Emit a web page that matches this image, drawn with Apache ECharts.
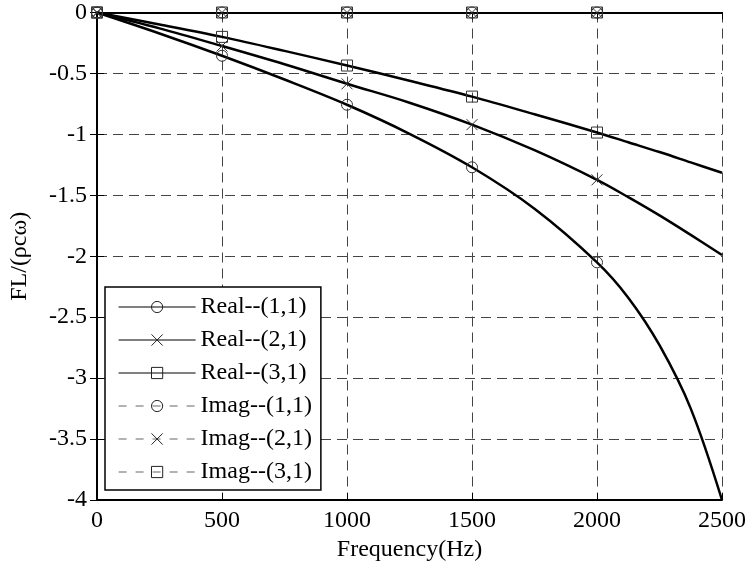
<!DOCTYPE html>
<html>
<head>
<meta charset="utf-8">
<script src="https://cdn.jsdelivr.net/npm/echarts@6/dist/echarts.min.js"></script>
<style>html,body{margin:0;padding:0;background:#fff}#c{width:749px;height:570px}</style>
</head>
<body>
<div id="c"></div>
<script>
const freq = [0, 250, 500, 750, 1000, 1250, 1500, 1750, 2000, 2125, 2250, 2375, 2500];
const markerFreqs = [0, 500, 1000, 1500, 2000];
const real11 = [0, -0.172, -0.355, -0.55, -0.757, -0.995, -1.27, -1.61, -2.05, -2.34, -2.73, -3.25, -4.0];
const real21 = [0, -0.13, -0.275, -0.425, -0.585, -0.74, -0.92, -1.13, -1.373, -1.515, -1.665, -1.825, -1.99];
const real31 = [0, -0.098, -0.2, -0.315, -0.435, -0.56, -0.69, -0.835, -0.985, -1.065, -1.145, -1.23, -1.315];
const imag11 = [0, 0, 0, 0, 0, 0, 0, 0, 0, 0, 0, 0, 0];
const imag21 = [0, 0, 0, 0, 0, 0, 0, 0, 0, 0, 0, 0, 0];
const imag31 = [0, 0, 0, 0, 0, 0, 0, 0, 0, 0, 0, 0, 0];
const xTicks = [0, 500, 1000, 1500, 2000, 2500];
const names = ['Real--(1,1)', 'Real--(2,1)', 'Real--(3,1)', 'Imag--(1,1)', 'Imag--(2,1)', 'Imag--(3,1)'];

const FONT = "'Liberation Serif','Times New Roman',serif";
const crossPath = 'path://M0,0L10,10M10,0L0,10';
const symbols = ['circle', crossPath, 'rect', 'circle', crossPath, 'rect'];
const values = [real11, real21, real31, imag11, imag21, imag31];

function mkData(vals, sym) {
  return freq.map((f, i) => ({
    value: [f, vals[i]],
    symbol: markerFreqs.includes(f) ? sym : 'none'
  }));
}

const series = names.map((n, k) => {
  const isReal = k < 3;
  return {
    name: n,
    type: 'line',
    smooth: 0.35,
    clip: false,
    symbol: symbols[k],
    symbolSize: 11,
    showAllSymbol: true,
    data: mkData(values[k], symbols[k]),
    lineStyle: isReal ? {color: '#000', width: 2.5, type: 'solid'} : {color: '#000', width: 1.2, type: [5, 4]},
    itemStyle: {color: 'none', borderColor: '#333', borderWidth: 1},
    z: isReal ? 3 : 4,
    emphasis: {disabled: true},
    animation: false
  };
});

const legendData = names.map((n, k) => ({
  name: n,
  lineStyle: k < 3 ? {color: '#000', width: 1, type: 'solid'} : {color: '#666', width: 1.2, type: [8, 9]},
  itemStyle: {color: 'none', borderColor: '#222', borderWidth: 1}
}));

const chart = echarts.init(document.getElementById('c'), null, {renderer: 'canvas'});
chart.setOption({
  animation: false,
  backgroundColor: '#fff',
  grid: {left: 93, right: 27, top: 12.5, bottom: 70, show: false},
  legend: {
    orient: 'vertical',
    left: 105, top: 287,
    data: legendData,
    itemWidth: 77, itemHeight: 14,
    itemGap: 9,
    padding: [8, 9, 6, 13],
    borderColor: '#000', borderWidth: 1.5,
    backgroundColor: '#fff',
    textStyle: {fontFamily: FONT, fontSize: 24, color: '#000'},
    selectedMode: false
  },
  xAxis: [{
    type: 'value', min: 0, max: 2500, interval: 500,
    name: 'Frequency(Hz)', nameLocation: 'middle', nameGap: 37,
    nameTextStyle: {fontFamily: FONT, fontSize: 24, color: '#000'},
    axisLine: {show: true, onZero: false, lineStyle: {color: '#000', width: 2}},
    axisTick: {show: true, inside: true, length: 7, lineStyle: {color: '#000', width: 1}},
    axisLabel: {fontFamily: FONT, fontSize: 24, color: '#000', margin: 9,
      formatter: v => xTicks.includes(v) ? String(v) : ''},
    splitLine: {show: true, lineStyle: {color: '#444', width: 1, type: [10, 6]}}
  }, {
    type: 'value', min: 0, max: 2500, interval: 500, position: 'top',
    axisLine: {show: true, lineStyle: {color: '#000', width: 2}},
    axisTick: {show: true, inside: true, length: 7, lineStyle: {color: '#000', width: 1}},
    axisLabel: {show: false}, splitLine: {show: false}
  }],
  yAxis: [{
    type: 'value', min: -4, max: 0, interval: 0.5,
    name: 'FL/(ρcω)', nameLocation: 'middle', nameGap: 65, nameRotate: 90,
    nameTextStyle: {fontFamily: FONT, fontSize: 24, color: '#000'},
    axisLine: {show: true, onZero: false, lineStyle: {color: '#000', width: 2}},
    axisTick: {show: true, inside: true, length: 7, lineStyle: {color: '#000', width: 1}},
    axisLabel: {fontFamily: FONT, fontSize: 24, color: '#000', margin: 10},
    splitLine: {show: true, lineStyle: {color: '#444', width: 1, type: [10, 6]}}
  }, {
    type: 'value', min: -4, max: 0, interval: 0.5, position: 'right',
    axisLine: {show: true, lineStyle: {color: '#000', width: 2}},
    axisTick: {show: true, inside: true, length: 7, lineStyle: {color: '#000', width: 1}},
    axisLabel: {show: false}, splitLine: {show: false}
  }],
  series: series
});
</script>
</body>
</html>
